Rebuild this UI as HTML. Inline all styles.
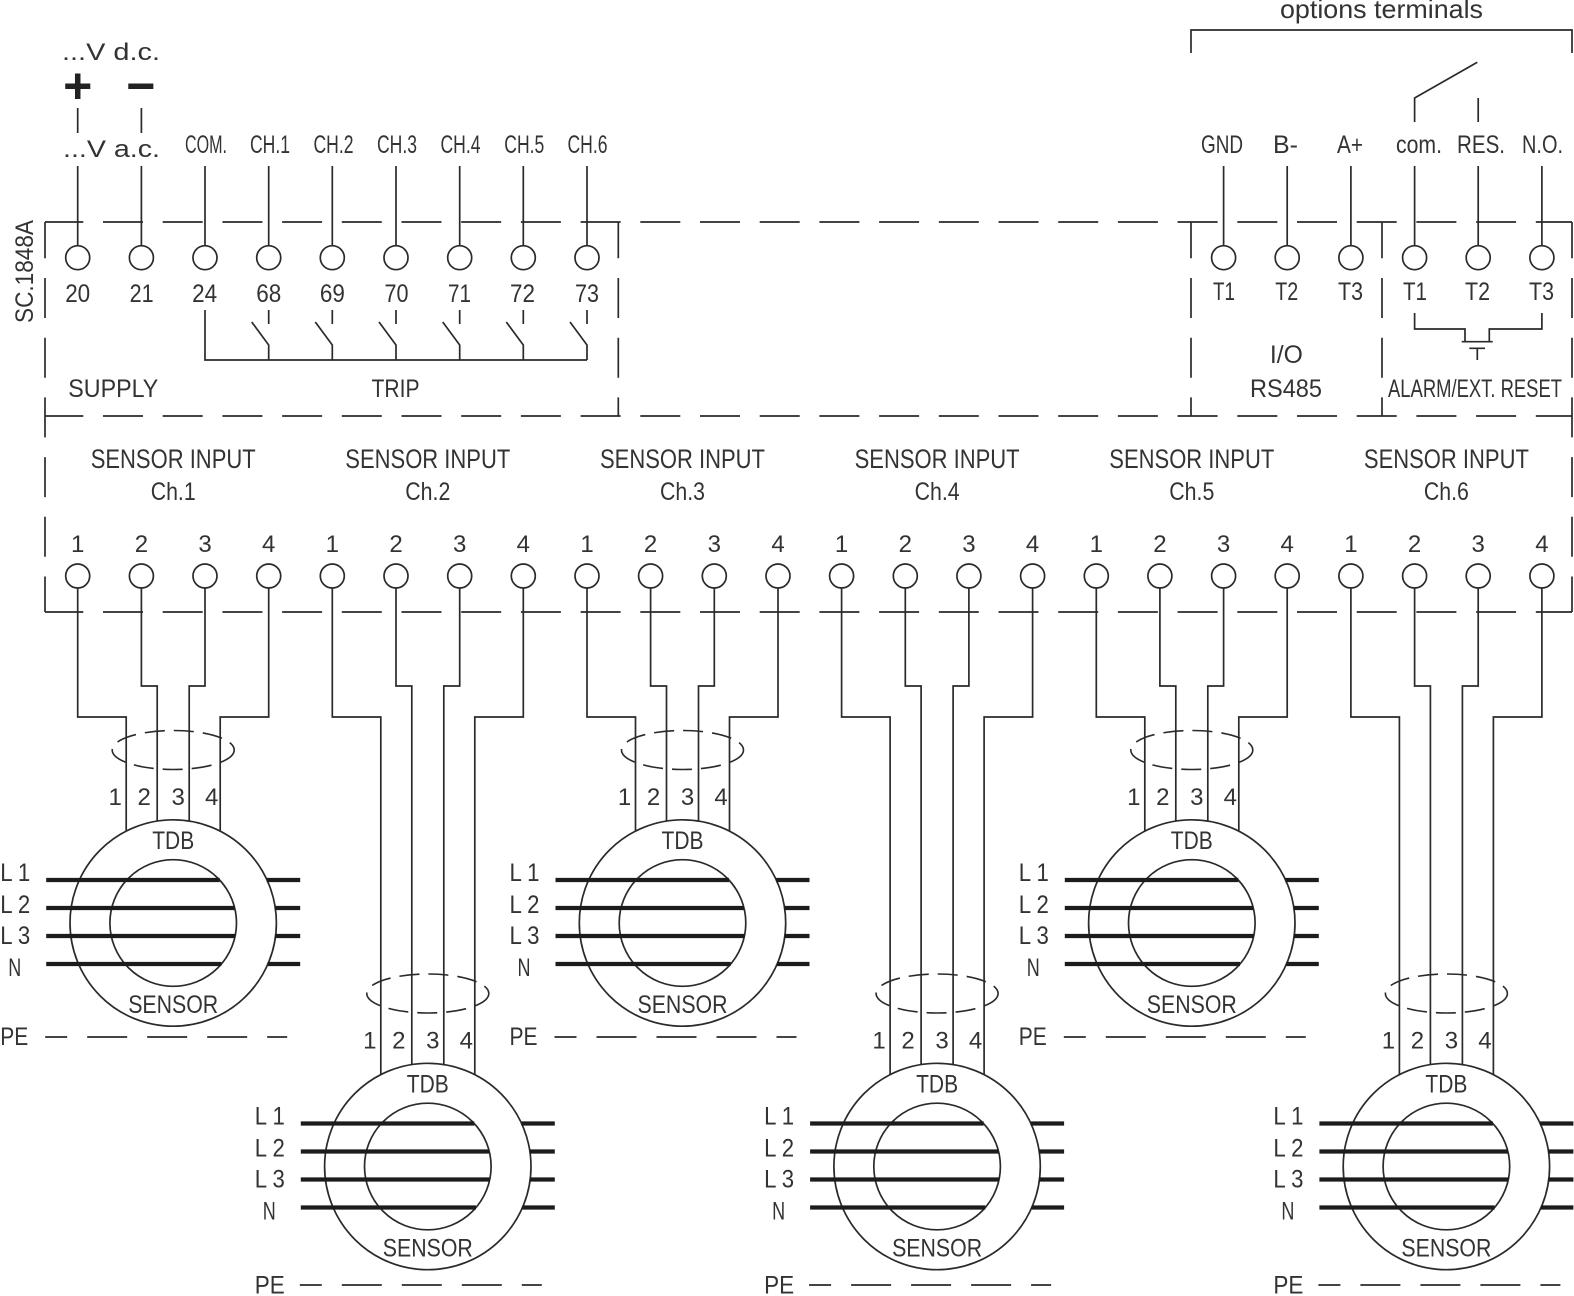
<!DOCTYPE html>
<html><head><meta charset="utf-8"><style>
html,body{margin:0;padding:0;background:#fff;}
svg{display:block;}
.l{stroke:#2a2a2a;stroke-width:1.7;fill:none;}
.d{stroke:#2a2a2a;stroke-width:1.7;fill:none;stroke-dasharray:40 19.7;}
.e{stroke:#2a2a2a;stroke-width:1.6;fill:none;stroke-dasharray:20 9;}
.t{stroke:#1c1c1c;stroke-width:4.2;fill:none;}
circle{fill:none;stroke:#2a2a2a;stroke-width:1.7;}
text{font-family:"Liberation Sans",Arial,sans-serif;fill:#333;text-anchor:middle;font-size:25px;}
.s{font-size:24px;}
.m{font-size:27px;}
.end{text-anchor:end;}
</style></head><body>
<svg width="1574" height="1296" viewBox="0 0 1574 1296" xmlns="http://www.w3.org/2000/svg">

<!-- dashed box lines -->
<path class="d" stroke-dashoffset="1.7" d="M45 222H1572M45 416H1572M45 612H1572"/>
<path class="d" stroke-dashoffset="3.7" d="M45 222V612"/>
<path class="d" stroke-dashoffset="3.7" d="M1572 222V612"/>
<path class="d" stroke-dashoffset="3.7" d="M618.3 222V416"/>
<path class="d" stroke-dashoffset="3.7" d="M1191 222V416"/>
<path class="d" stroke-dashoffset="3.7" d="M1382 222V416"/>

<text transform="translate(33,271.5) rotate(-90)" textLength="103" lengthAdjust="spacingAndGlyphs">SC.1848A</text>

<!-- supply -->
<text x="111" y="60" textLength="98" lengthAdjust="spacingAndGlyphs" class="s">...V d.c.</text>
<text x="77.7" y="103" style="font-size:50px;font-weight:bold;fill:#222">+</text>
<text x="140.8" y="103" style="font-size:50px;font-weight:bold;fill:#222">−</text>
<path class="l" d="M77.7 108V133M141.4 108V133"/>
<text x="111.5" y="157" textLength="97" lengthAdjust="spacingAndGlyphs" class="s">...V a.c.</text>

<!-- top terminal labels -->
<text x="206" y="153" textLength="42" lengthAdjust="spacingAndGlyphs">COM.</text>
<text x="270" y="153" textLength="40" lengthAdjust="spacingAndGlyphs">CH.1</text>
<text x="333.5" y="153" textLength="40" lengthAdjust="spacingAndGlyphs">CH.2</text>
<text x="397" y="153" textLength="40" lengthAdjust="spacingAndGlyphs">CH.3</text>
<text x="460.5" y="153" textLength="40" lengthAdjust="spacingAndGlyphs">CH.4</text>
<text x="524.3" y="153" textLength="40" lengthAdjust="spacingAndGlyphs">CH.5</text>
<text x="587.5" y="153" textLength="40" lengthAdjust="spacingAndGlyphs">CH.6</text>

<path class="l" d="M77.7 166V245.7M141.4 166V245.7M205 166V245.7M268.7 166V245.7M332.3 166V245.7M396 166V245.7M459.7 166V245.7M523.3 166V245.7M587 166V245.7"/>
<circle cx="77.7" cy="257.7" r="12"/><circle cx="141.4" cy="257.7" r="12"/><circle cx="205" cy="257.7" r="12"/>
<circle cx="268.7" cy="257.7" r="12"/><circle cx="332.3" cy="257.7" r="12"/><circle cx="396" cy="257.7" r="12"/>
<circle cx="459.7" cy="257.7" r="12"/><circle cx="523.3" cy="257.7" r="12"/><circle cx="587" cy="257.7" r="12"/>

<text x="77.7" y="302" textLength="25" lengthAdjust="spacingAndGlyphs">20</text>
<text x="141.6" y="302" textLength="24" lengthAdjust="spacingAndGlyphs">21</text>
<text x="204.6" y="302" textLength="25" lengthAdjust="spacingAndGlyphs">24</text>
<text x="268.8" y="302" textLength="25" lengthAdjust="spacingAndGlyphs">68</text>
<text x="332.4" y="302" textLength="25" lengthAdjust="spacingAndGlyphs">69</text>
<text x="396.5" y="302" textLength="24" lengthAdjust="spacingAndGlyphs">70</text>
<text x="459.5" y="302" textLength="23" lengthAdjust="spacingAndGlyphs">71</text>
<text x="522.5" y="302" textLength="25" lengthAdjust="spacingAndGlyphs">72</text>
<text x="587" y="302" textLength="24" lengthAdjust="spacingAndGlyphs">73</text>

<!-- trip switches -->
<path class="l" d="M205 310V360H587
M268.7 310V324M251.7 322L268.7 345V360
M332.3 310V324M315.3 322L332.3 345V360
M396 310V324M379 322L396 345V360
M459.7 310V324M442.7 322L459.7 345V360
M523.3 310V324M506.3 322L523.3 345V360
M587 310V324M570 322L587 345V360"/>

<text x="113.3" y="397" textLength="90" lengthAdjust="spacingAndGlyphs">SUPPLY</text>
<text x="395.5" y="397" textLength="48" lengthAdjust="spacingAndGlyphs">TRIP</text>

<!-- options terminals -->
<text x="1381.5" y="18" textLength="203" lengthAdjust="spacingAndGlyphs" style="font-size:26px">options terminals</text>
<path class="l" d="M1191 53V30H1572V53"/>
<path class="l" d="M1414.6 122V98L1477.3 62.3M1478.2 98V122"/>

<text x="1222" y="153" textLength="42" lengthAdjust="spacingAndGlyphs">GND</text>
<text x="1285.5" y="153" textLength="25" lengthAdjust="spacingAndGlyphs">B-</text>
<text x="1350" y="153" textLength="26" lengthAdjust="spacingAndGlyphs">A+</text>
<text x="1419" y="153" textLength="46" lengthAdjust="spacingAndGlyphs">com.</text>
<text x="1481" y="153" textLength="48" lengthAdjust="spacingAndGlyphs">RES.</text>
<text x="1542.5" y="153" textLength="41" lengthAdjust="spacingAndGlyphs">N.O.</text>

<path class="l" d="M1223.6 166V245.7M1287.2 166V245.7M1350.9 166V245.7M1414.6 166V245.7M1478.2 166V245.7M1541.9 166V245.7"/>
<circle cx="1223.6" cy="257.7" r="12"/><circle cx="1287.2" cy="257.7" r="12"/><circle cx="1350.9" cy="257.7" r="12"/>
<circle cx="1414.6" cy="257.7" r="12"/><circle cx="1478.2" cy="257.7" r="12"/><circle cx="1541.9" cy="257.7" r="12"/>

<text x="1224" y="300" textLength="22" lengthAdjust="spacingAndGlyphs">T1</text>
<text x="1286.7" y="300" textLength="23" lengthAdjust="spacingAndGlyphs">T2</text>
<text x="1350.5" y="300" textLength="25" lengthAdjust="spacingAndGlyphs">T3</text>
<text x="1415" y="300" textLength="24" lengthAdjust="spacingAndGlyphs">T1</text>
<text x="1477.5" y="300" textLength="25" lengthAdjust="spacingAndGlyphs">T2</text>
<text x="1541.5" y="300" textLength="25" lengthAdjust="spacingAndGlyphs">T3</text>

<path class="l" d="M1414.6 313V329H1465V341.7M1541.9 313V329H1489.3V341.7M1461.7 341.7H1492.7M1469.3 348.3H1485M1477.3 348.3V360"/>

<text x="1286.4" y="363" textLength="33" lengthAdjust="spacingAndGlyphs">I/O</text>
<text x="1286" y="397" textLength="72" lengthAdjust="spacingAndGlyphs">RS485</text>
<text x="1475" y="397" textLength="174" lengthAdjust="spacingAndGlyphs">ALARM/EXT. RESET</text>

<!-- sensor input labels -->
<text class="m" x="173.2" y="468" textLength="165" lengthAdjust="spacingAndGlyphs">SENSOR INPUT</text>
<text class="m" x="427.8" y="468" textLength="165" lengthAdjust="spacingAndGlyphs">SENSOR INPUT</text>
<text class="m" x="682.5" y="468" textLength="165" lengthAdjust="spacingAndGlyphs">SENSOR INPUT</text>
<text class="m" x="937.1" y="468" textLength="165" lengthAdjust="spacingAndGlyphs">SENSOR INPUT</text>
<text class="m" x="1191.8" y="468" textLength="165" lengthAdjust="spacingAndGlyphs">SENSOR INPUT</text>
<text class="m" x="1446.4" y="468" textLength="165" lengthAdjust="spacingAndGlyphs">SENSOR INPUT</text>
<text x="173.2" y="500" textLength="45" lengthAdjust="spacingAndGlyphs">Ch.1</text>
<text x="427.8" y="500" textLength="45" lengthAdjust="spacingAndGlyphs">Ch.2</text>
<text x="682.5" y="500" textLength="45" lengthAdjust="spacingAndGlyphs">Ch.3</text>
<text x="937.1" y="500" textLength="45" lengthAdjust="spacingAndGlyphs">Ch.4</text>
<text x="1191.8" y="500" textLength="45" lengthAdjust="spacingAndGlyphs">Ch.5</text>
<text x="1446.4" y="500" textLength="45" lengthAdjust="spacingAndGlyphs">Ch.6</text>

<!-- sensor terminal numbers -->
<g class="s">
<text class="s" x="77.7" y="552">1</text><text class="s" x="141.4" y="552">2</text><text class="s" x="205" y="552">3</text><text class="s" x="268.7" y="552">4</text>
<text class="s" x="332.3" y="552">1</text><text class="s" x="396" y="552">2</text><text class="s" x="459.7" y="552">3</text><text class="s" x="523.3" y="552">4</text>
<text class="s" x="587" y="552">1</text><text class="s" x="650.6" y="552">2</text><text class="s" x="714.3" y="552">3</text><text class="s" x="778" y="552">4</text>
<text class="s" x="841.6" y="552">1</text><text class="s" x="905.3" y="552">2</text><text class="s" x="968.9" y="552">3</text><text class="s" x="1032.6" y="552">4</text>
<text class="s" x="1096.3" y="552">1</text><text class="s" x="1159.9" y="552">2</text><text class="s" x="1223.6" y="552">3</text><text class="s" x="1287.2" y="552">4</text>
<text class="s" x="1350.9" y="552">1</text><text class="s" x="1414.6" y="552">2</text><text class="s" x="1478.2" y="552">3</text><text class="s" x="1541.9" y="552">4</text>
</g>

<!-- sensor terminal circles -->
<circle cx="77.7" cy="576" r="12"/><circle cx="141.4" cy="576" r="12"/><circle cx="205" cy="576" r="12"/><circle cx="268.7" cy="576" r="12"/>
<circle cx="332.3" cy="576" r="12"/><circle cx="396" cy="576" r="12"/><circle cx="459.7" cy="576" r="12"/><circle cx="523.3" cy="576" r="12"/>
<circle cx="587" cy="576" r="12"/><circle cx="650.6" cy="576" r="12"/><circle cx="714.3" cy="576" r="12"/><circle cx="778" cy="576" r="12"/>
<circle cx="841.6" cy="576" r="12"/><circle cx="905.3" cy="576" r="12"/><circle cx="968.9" cy="576" r="12"/><circle cx="1032.6" cy="576" r="12"/>
<circle cx="1096.3" cy="576" r="12"/><circle cx="1159.9" cy="576" r="12"/><circle cx="1223.6" cy="576" r="12"/><circle cx="1287.2" cy="576" r="12"/>
<circle cx="1350.9" cy="576" r="12"/><circle cx="1414.6" cy="576" r="12"/><circle cx="1478.2" cy="576" r="12"/><circle cx="1541.9" cy="576" r="12"/>

<!-- wires -->
<path class="l" d="
M77.7 588V717H126.2V831.3M141.4 588V686H157.2V821.3M205 588V686H189.2V821.3M268.7 588V717H220.2V831.3
M332.3 588V717H380.8V1074.8M396 588V686H411.8V1064.8M459.7 588V686H443.8V1064.8M523.3 588V717H474.8V1074.8
M587 588V717H635.5V831.3M650.6 588V686H666.5V821.3M714.3 588V686H698.5V821.3M778 588V717H729.5V831.3
M841.6 588V717H890.1V1074.8M905.3 588V686H921.1V1064.8M968.9 588V686H953.1V1064.8M1032.6 588V717H984.1V1074.8
M1096.3 588V717H1144.8V831.3M1159.9 588V686H1175.8V821.3M1223.6 588V686H1207.8V821.3M1287.2 588V717H1238.8V831.3
M1350.9 588V717H1399.4V1074.8M1414.6 588V686H1430.4V1064.8M1478.2 588V686H1462.4V1064.8M1541.9 588V717H1493.4V1074.8"/>

<!-- sensor 1 -->
<g transform="translate(173.2,923)">
<circle r="103.2"/><circle r="63.3"/>
<path class="t" d="M-127 -43H46.5M93.6 -43H127M-127 -15H61.5M101.9 -15H127M-127 13H62M102.2 13H127M-127 41H48.2M94.5 41H127"/>
<ellipse class="e" cx="0" cy="-173" rx="61" ry="19.5"/>
<path class="l" d="M-128 114H-106M-86 114H-46M-26 114H14M34 114H74M94 114H114"/>
<text x="0" y="-74" textLength="42" lengthAdjust="spacingAndGlyphs">TDB</text>
<text x="0" y="90" textLength="90" lengthAdjust="spacingAndGlyphs">SENSOR</text>
<text class="s" x="-58" y="-118">1</text><text class="s" x="-29" y="-118">2</text><text class="s" x="5" y="-118">3</text><text class="s" x="38.5" y="-118">4</text>
<text class="end" x="-143" y="-42" textLength="30" lengthAdjust="spacingAndGlyphs">L 1</text>
<text class="end" x="-143" y="-10" textLength="30" lengthAdjust="spacingAndGlyphs">L 2</text>
<text class="end" x="-143" y="21" textLength="30" lengthAdjust="spacingAndGlyphs">L 3</text>
<text class="end" x="-152" y="53" textLength="13" lengthAdjust="spacingAndGlyphs">N</text>
<text class="end" x="-145" y="122" textLength="28" lengthAdjust="spacingAndGlyphs">PE</text>
</g>

<!-- sensor 2 -->
<g transform="translate(427.8,1166.5)">
<circle r="103.2"/><circle r="63.3"/>
<path class="t" d="M-127 -43H46.5M93.6 -43H127M-127 -15H61.5M101.9 -15H127M-127 13H62M102.2 13H127M-127 41H48.2M94.5 41H127"/>
<ellipse class="e" cx="0" cy="-173" rx="61" ry="19.5"/>
<path class="l" d="M-128 118.5H-106M-86 118.5H-46M-26 118.5H14M34 118.5H74M94 118.5H114"/>
<text x="0" y="-74" textLength="42" lengthAdjust="spacingAndGlyphs">TDB</text>
<text x="0" y="90" textLength="90" lengthAdjust="spacingAndGlyphs">SENSOR</text>
<text class="s" x="-58" y="-118">1</text><text class="s" x="-29" y="-118">2</text><text class="s" x="5" y="-118">3</text><text class="s" x="38.5" y="-118">4</text>
<text class="end" x="-143" y="-42" textLength="30" lengthAdjust="spacingAndGlyphs">L 1</text>
<text class="end" x="-143" y="-10" textLength="30" lengthAdjust="spacingAndGlyphs">L 2</text>
<text class="end" x="-143" y="21" textLength="30" lengthAdjust="spacingAndGlyphs">L 3</text>
<text class="end" x="-152" y="53" textLength="13" lengthAdjust="spacingAndGlyphs">N</text>
<text class="end" x="-143" y="127" textLength="30" lengthAdjust="spacingAndGlyphs">PE</text>
</g>

<!-- sensor 3 -->
<g transform="translate(682.5,923)">
<circle r="103.2"/><circle r="63.3"/>
<path class="t" d="M-127 -43H46.5M93.6 -43H127M-127 -15H61.5M101.9 -15H127M-127 13H62M102.2 13H127M-127 41H48.2M94.5 41H127"/>
<ellipse class="e" cx="0" cy="-173" rx="61" ry="19.5"/>
<path class="l" d="M-128 114H-106M-86 114H-46M-26 114H14M34 114H74M94 114H114"/>
<text x="0" y="-74" textLength="42" lengthAdjust="spacingAndGlyphs">TDB</text>
<text x="0" y="90" textLength="90" lengthAdjust="spacingAndGlyphs">SENSOR</text>
<text class="s" x="-58" y="-118">1</text><text class="s" x="-29" y="-118">2</text><text class="s" x="5" y="-118">3</text><text class="s" x="38.5" y="-118">4</text>
<text class="end" x="-143" y="-42" textLength="30" lengthAdjust="spacingAndGlyphs">L 1</text>
<text class="end" x="-143" y="-10" textLength="30" lengthAdjust="spacingAndGlyphs">L 2</text>
<text class="end" x="-143" y="21" textLength="30" lengthAdjust="spacingAndGlyphs">L 3</text>
<text class="end" x="-152" y="53" textLength="13" lengthAdjust="spacingAndGlyphs">N</text>
<text class="end" x="-145" y="122" textLength="28" lengthAdjust="spacingAndGlyphs">PE</text>
</g>

<!-- sensor 4 -->
<g transform="translate(937.1,1166.5)">
<circle r="103.2"/><circle r="63.3"/>
<path class="t" d="M-127 -43H46.5M93.6 -43H127M-127 -15H61.5M101.9 -15H127M-127 13H62M102.2 13H127M-127 41H48.2M94.5 41H127"/>
<ellipse class="e" cx="0" cy="-173" rx="61" ry="19.5"/>
<path class="l" d="M-128 118.5H-106M-86 118.5H-46M-26 118.5H14M34 118.5H74M94 118.5H114"/>
<text x="0" y="-74" textLength="42" lengthAdjust="spacingAndGlyphs">TDB</text>
<text x="0" y="90" textLength="90" lengthAdjust="spacingAndGlyphs">SENSOR</text>
<text class="s" x="-58" y="-118">1</text><text class="s" x="-29" y="-118">2</text><text class="s" x="5" y="-118">3</text><text class="s" x="38.5" y="-118">4</text>
<text class="end" x="-143" y="-42" textLength="30" lengthAdjust="spacingAndGlyphs">L 1</text>
<text class="end" x="-143" y="-10" textLength="30" lengthAdjust="spacingAndGlyphs">L 2</text>
<text class="end" x="-143" y="21" textLength="30" lengthAdjust="spacingAndGlyphs">L 3</text>
<text class="end" x="-152" y="53" textLength="13" lengthAdjust="spacingAndGlyphs">N</text>
<text class="end" x="-143" y="127" textLength="30" lengthAdjust="spacingAndGlyphs">PE</text>
</g>

<!-- sensor 5 -->
<g transform="translate(1191.8,923)">
<circle r="103.2"/><circle r="63.3"/>
<path class="t" d="M-127 -43H46.5M93.6 -43H127M-127 -15H61.5M101.9 -15H127M-127 13H62M102.2 13H127M-127 41H48.2M94.5 41H127"/>
<ellipse class="e" cx="0" cy="-173" rx="61" ry="19.5"/>
<path class="l" d="M-128 114H-106M-86 114H-46M-26 114H14M34 114H74M94 114H114"/>
<text x="0" y="-74" textLength="42" lengthAdjust="spacingAndGlyphs">TDB</text>
<text x="0" y="90" textLength="90" lengthAdjust="spacingAndGlyphs">SENSOR</text>
<text class="s" x="-58" y="-118">1</text><text class="s" x="-29" y="-118">2</text><text class="s" x="5" y="-118">3</text><text class="s" x="38.5" y="-118">4</text>
<text class="end" x="-143" y="-42" textLength="30" lengthAdjust="spacingAndGlyphs">L 1</text>
<text class="end" x="-143" y="-10" textLength="30" lengthAdjust="spacingAndGlyphs">L 2</text>
<text class="end" x="-143" y="21" textLength="30" lengthAdjust="spacingAndGlyphs">L 3</text>
<text class="end" x="-152" y="53" textLength="13" lengthAdjust="spacingAndGlyphs">N</text>
<text class="end" x="-145" y="122" textLength="28" lengthAdjust="spacingAndGlyphs">PE</text>
</g>

<!-- sensor 6 -->
<g transform="translate(1446.4,1166.5)">
<circle r="103.2"/><circle r="63.3"/>
<path class="t" d="M-127 -43H46.5M93.6 -43H127M-127 -15H61.5M101.9 -15H127M-127 13H62M102.2 13H127M-127 41H48.2M94.5 41H127"/>
<ellipse class="e" cx="0" cy="-173" rx="61" ry="19.5"/>
<path class="l" d="M-128 118.5H-106M-86 118.5H-46M-26 118.5H14M34 118.5H74M94 118.5H114"/>
<text x="0" y="-74" textLength="42" lengthAdjust="spacingAndGlyphs">TDB</text>
<text x="0" y="90" textLength="90" lengthAdjust="spacingAndGlyphs">SENSOR</text>
<text class="s" x="-58" y="-118">1</text><text class="s" x="-29" y="-118">2</text><text class="s" x="5" y="-118">3</text><text class="s" x="38.5" y="-118">4</text>
<text class="end" x="-143" y="-42" textLength="30" lengthAdjust="spacingAndGlyphs">L 1</text>
<text class="end" x="-143" y="-10" textLength="30" lengthAdjust="spacingAndGlyphs">L 2</text>
<text class="end" x="-143" y="21" textLength="30" lengthAdjust="spacingAndGlyphs">L 3</text>
<text class="end" x="-152" y="53" textLength="13" lengthAdjust="spacingAndGlyphs">N</text>
<text class="end" x="-143" y="127" textLength="30" lengthAdjust="spacingAndGlyphs">PE</text>
</g>

</svg>
</body></html>
